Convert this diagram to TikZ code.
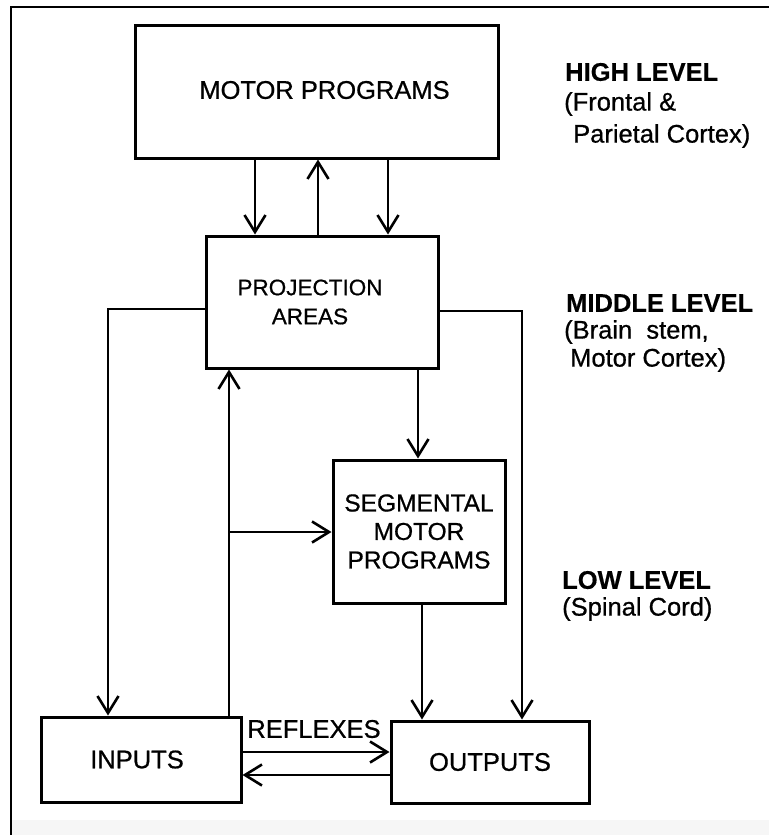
\documentclass[tikz,border=0pt]{standalone}
\usepackage{fontspec}
\setmainfont{Liberation Sans}
\newfontfamily\medfont{Liberation Sans}[BoldFont=Liberation Sans, BoldFeatures={FakeBold=0.7}]
\newfontfamily\heavyfont{Liberation Sans Bold}[BoldFont=Liberation Sans Bold, BoldFeatures={FakeBold=0.4}]
\usetikzlibrary{arrows.meta}
\definecolor{stripgray}{RGB}{246,246,246}
\tikzset{
  box/.style={draw=black, line width=3pt, rectangle, inner sep=0pt, fill=white},
  lbl/.style={font=\medfont\bfseries\fontsize{25.5}{30}\selectfont, inner sep=0pt},
  plbl/.style={font=\medfont\bfseries\fontsize{22.5}{29}\selectfont, inner sep=0pt, align=center},
  lvl/.style={font=\heavyfont\bfseries\fontsize{25.5}{30}\selectfont, inner sep=0pt, anchor=west},
  sub/.style={font=\medfont\bfseries\fontsize{25.5}{30}\selectfont, inner sep=0pt, anchor=west},
  conn/.style={draw=black, line width=2.9pt},
  thin/.style={draw=black, line width=2.2pt},
  arr/.style={-{Straight Barb[length=17pt, width=21pt, line width=2.6pt]}}
}
\begin{document}
\begin{tikzpicture}[x=1pt, y=-1pt]
\useasboundingbox (0,0) rectangle (769,835);
\fill[white] (0,0) rectangle (769,835);
\fill[stripgray] (11,820) rectangle (769,835);
\draw[line width=2pt] (11,835) -- (11,7) -- (769,7);

% boxes
\node[box, minimum width=363pt, minimum height=133pt,
      label={[lbl, xshift=8pt, yshift=1.5pt]center:MOTOR PROGRAMS}] (motor) at (316.5,91.5) {};
\node[box, minimum width=232pt, minimum height=132pt,
      label={[plbl, xshift=-12pt, yshift=0pt]center:PROJECTION\\AREAS}] (proj) at (322,302) {};
\node[box, minimum width=172pt, minimum height=143pt, lbl, align=center,
      font=\medfont\bfseries\fontsize{24.5}{28.5}\selectfont] (seg) at (419,531.5) {SEGMENTAL\\MOTOR\\PROGRAMS};
\node[box, minimum width=200pt, minimum height=85pt, lbl] (inputs) at (141,759.5) {\hspace{-8pt}INPUTS};
\node[box, minimum width=198pt, minimum height=82pt, lbl] (outputs) at (490,762) {OUTPUTS};

% routing coordinates
\coordinate (xa) at (255,0);
\coordinate (xb) at (318,0);
\coordinate (xc) at (388,0);
\coordinate (xd) at (418,0);
\coordinate (xe) at (422,0);
\coordinate (xf) at (229,0);
\coordinate (lcorner) at (108,309);
\coordinate (rcorner) at (522,311);
\coordinate (branch) at (229,532);
\coordinate (ya) at (0,752);
\coordinate (yb) at (0,775);

% connectors between motor programs and projection areas
\draw[conn, arr] (motor.south -| xa) -- (proj.north -| xa);
\draw[conn, arr] (proj.north -| xb) -- (motor.south -| xb);
\draw[conn, arr] (motor.south -| xc) -- (proj.north -| xc);

% projection areas to inputs / outputs
\draw[conn, arr] (proj.west |- lcorner) -- (lcorner) -- (inputs.north -| lcorner);
\draw[conn, arr] (proj.east |- rcorner) -- (rcorner) -- (outputs.north -| rcorner);

% projection areas to segmental
\draw[conn, arr] (proj.south -| xd) -- (seg.north -| xd);

% inputs up to projection, branch to segmental
\draw[thin, arr] (inputs.north -| xf) -- (proj.south -| xf);
\draw[thin, arr] (branch) -- (seg.west |- branch);

% segmental to outputs
\draw[conn, arr] (seg.south -| xe) -- (outputs.north -| xe);

% reflexes
\draw[conn, arr] (inputs.east |- ya) -- (outputs.west |- ya);
\draw[conn, arr] (outputs.west |- yb) -- (inputs.east |- yb);
\node[lbl] (reflex) at (314,729) {REFLEXES};

% level labels
\node[lvl] (high) at (565,72) {HIGH LEVEL};
\node[sub] (highA) at (564,104) {(Frontal \&};
\node[sub] (highB) at (573,136) {Parietal Cortex)};

\node[lvl] (mid) at (566,303) {MIDDLE LEVEL};
\node[sub] (midA) at (564,332) {(Brain\ \ stem,};
\node[sub] (midB) at (570,360) {Motor Cortex)};

\node[lvl] (low) at (562,580) {LOW LEVEL};
\node[sub] (lowA) at (562,609) {(Spinal Cord)};
\end{tikzpicture}
\end{document}
